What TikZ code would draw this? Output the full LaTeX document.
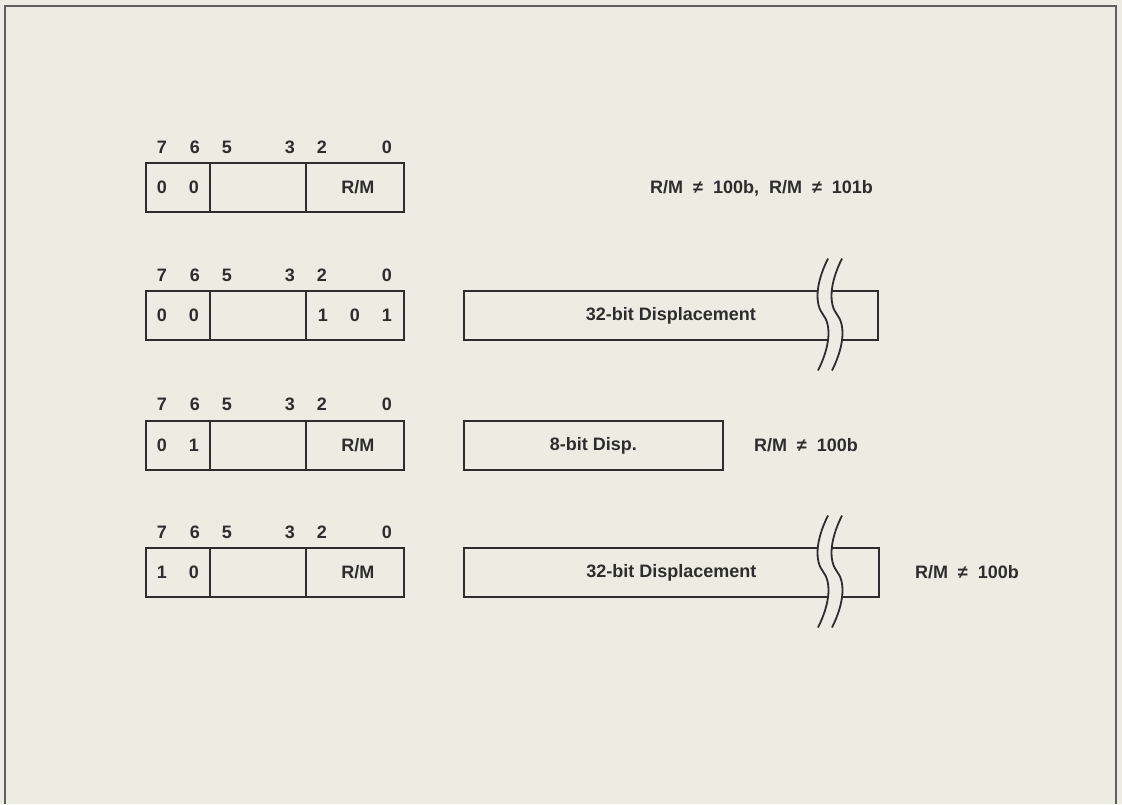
\documentclass[tikz,border=0pt]{standalone}
\usepackage{fontspec}
\setmainfont{Liberation Sans}
\usepackage{tikz}
\usetikzlibrary{positioning}
\definecolor{mypaper}{RGB}{236,236,226}
\definecolor{myink}{RGB}{45,45,45}
\definecolor{myframe}{RGB}{95,95,95}
\newcommand{\nequ}{\hspace{10pt}≠\hspace{10pt}}
\tikzset{
  cell/.style={rectangle, draw=myink, line width=1.8pt, minimum height=49pt,
    inner sep=0pt, anchor=north west, text=myink,
    font=\fontsize{18}{20}\selectfont\bfseries},
  bitnum/.style={inner sep=0pt, text=myink, font=\fontsize{18}{20}\selectfont\bfseries},
  note/.style={inner sep=0pt, text=myink, font=\fontsize{18}{20}\selectfont\bfseries},
  pics/brk/.style={code={
    \fill[mypaper] (-2,-56) .. controls (-15,-30) and (-15,-10) .. (-7,0)
      .. controls (1,10) and (1,30) .. (-12,56) -- (2,56)
      .. controls (15,30) and (15,10) .. (7,0)
      .. controls (-1,-10) and (-1,-30) .. (12,-56) -- cycle;
    \draw[myink, line width=1.8pt] (-2,-56) .. controls (-15,-30) and (-15,-10) .. (-7,0)
      .. controls (1,10) and (1,30) .. (-12,56);
    \draw[myink, line width=1.8pt] (12,-56) .. controls (-1,-30) and (-1,-10) .. (7,0)
      .. controls (15,10) and (15,30) .. (2,56);
  }}
}

\begin{document}
\begin{tikzpicture}[x=1pt, y=-1pt]
  % Page and frame
  \useasboundingbox (0,0) rectangle (1122,804);
  \fill[mypaper] (0,0) rectangle (1122,804);
  \draw[myframe, line width=2pt] (5,804) -- (5,6) -- (1116,6) -- (1116,804);

  % Bit numbers above each byte
  \foreach \r/\y in {1/147, 2/275, 3/404, 4/532} {
    \foreach \b/\x in {7/162, 6/195, 5/227, 3/290, 2/322, 0/387}
      \node[bitnum] (n\r\b) at (\x,\y) {\b};
  }

  % Row 1: mod 00
  \node[cell, minimum width=64pt] (a1) at (145,162) {0\hspace{22pt}0};
  \node[cell, minimum width=96pt] (b1) at (209,162) {};
  \node[cell, minimum width=98pt] (c1) at (305,162) {\hspace{6pt}R/M};
  \node[note, anchor=west] (e1) at (650,188) {R/M\nequ 100b, \ R/M\nequ 101b};

  % Row 2: mod 00, r/m 101
  \node[cell, minimum width=64pt] (a2) at (145,290) {0\hspace{22pt}0};
  \node[cell, minimum width=96pt] (b2) at (209,290) {};
  \node[cell, minimum width=98pt] (c2) at (305,290) {1\hspace{22pt}0\hspace{22pt}1};
  \node[cell, minimum width=414pt] (d2) at (463,290) {32-bit Displacement};
  \pic at (830,314.5) {brk};

  % Row 3: mod 01
  \node[cell, minimum width=64pt] (a3) at (145,420) {0\hspace{22pt}1};
  \node[cell, minimum width=96pt] (b3) at (209,420) {};
  \node[cell, minimum width=98pt] (c3) at (305,420) {\hspace{6pt}R/M};
  \node[cell, minimum width=259pt] (d3) at (463,420) {8-bit Disp.};
  \node[note, right=30pt of d3] (e3) {R/M\nequ 100b};

  % Row 4: mod 10
  \node[cell, minimum width=64pt] (a4) at (145,547) {1\hspace{22pt}0};
  \node[cell, minimum width=96pt] (b4) at (209,547) {};
  \node[cell, minimum width=98pt] (c4) at (305,547) {\hspace{6pt}R/M};
  \node[cell, minimum width=415pt] (d4) at (463,547) {32-bit Displacement};
  \pic at (830,571.5) {brk};
  \node[note, right=35pt of d4] (e4) {R/M\nequ 100b};
\end{tikzpicture}
\end{document}
